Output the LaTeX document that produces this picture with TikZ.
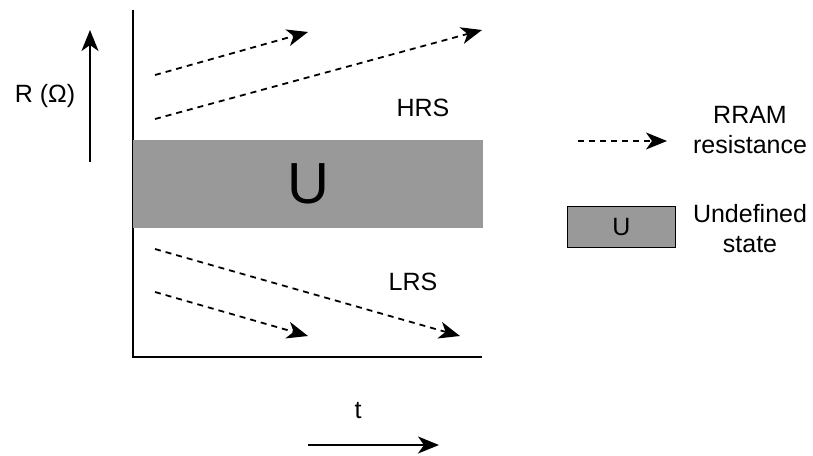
\documentclass[tikz,border=0pt]{standalone}
\usepackage{fontspec}
\setmainfont{Liberation Sans}
\usetikzlibrary{arrows.meta}
\definecolor{bandgray}{HTML}{999999}
\begin{document}
\begin{tikzpicture}[x=1pt,y=-1pt,
  txt/.style={inner sep=0pt,font=\fontsize{25}{30}\selectfont,align=center},
  axisline/.style={line width=2pt},
  trend/.style={dashed,dash pattern=on 6pt off 5pt,line width=1.8pt,
    -{Stealth[length=21pt,width=17pt,inset=6pt]}},
  solidarrow/.style={line width=2pt,-{Stealth[length=21pt,width=17pt,inset=6pt]}}]
\useasboundingbox (0,0) rectangle (813,455);

% axes of the plot
\coordinate (origin) at (133,357);
\coordinate (ytop) at (133,10);
\coordinate (xend) at (482,357);
\draw[axisline] (ytop) -- (origin) -- (xend);

% undefined band
\node[fill=bandgray,minimum width=350pt,minimum height=88pt,inner sep=0pt]
  (band) at (308,184) {};
\node[inner sep=0pt,font=\fontsize{58}{62}\selectfont] (bandU) at (band.center) {U};

% high resistance trends
\coordinate (h1s) at (155,75);  \coordinate (h1e) at (308,32);
\coordinate (h2s) at (155,119); \coordinate (h2e) at (482,30);
\draw[trend] (h1s) -- (h1e);
\draw[trend] (h2s) -- (h2e);
\node[txt] (hrs) at (423,108) {HRS};

% low resistance trends
\coordinate (l1s) at (155,249); \coordinate (l1e) at (460,336);
\coordinate (l2s) at (155,292); \coordinate (l2e) at (308,336);
\draw[trend] (l1s) -- (l1e);
\draw[trend] (l2s) -- (l2e);
\node[txt] (lrs) at (413,282) {LRS};

% resistance axis label
\coordinate (rbot) at (90,162); \coordinate (rtop) at (90,30);
\draw[solidarrow] (rbot) -- (rtop);
\node[txt] (rlabel) at (45,96) {R (Ω)};

% time axis label
\node[txt] (tlabel) at (358,411) {t};
\coordinate (tbeg) at (308,445); \coordinate (tend) at (439,445);
\draw[solidarrow] (tbeg) -- (tend);

% legend
\coordinate (lgs) at (578,141); \coordinate (lge) at (667,141);
\draw[trend] (lgs) -- (lge);
\node[txt] (lgtext1) at (750,130) {RRAM\\resistance};
\node[draw,line width=1.8pt,fill=bandgray,minimum width=108pt,minimum height=41pt,
  inner sep=0pt,font=\fontsize{25}{30}\selectfont] (lgbox) at (621.5,227) {U};
\node[txt] (lgtext2) at (750,229) {Undefined\\state};
\end{tikzpicture}
\end{document}
